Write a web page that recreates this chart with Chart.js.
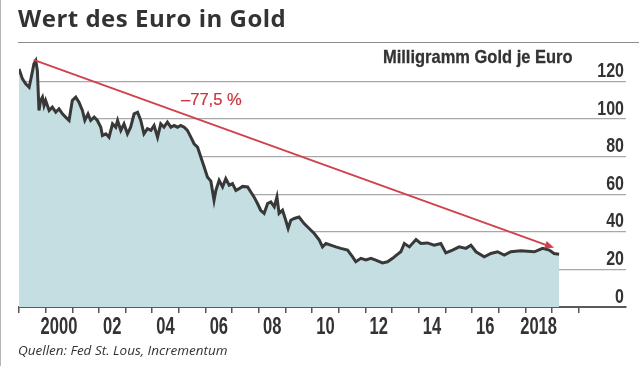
<!DOCTYPE html>
<html>
<head>
<meta charset="utf-8">
<script src="https://cdn.jsdelivr.net/npm/chart.js@4"></script>
<style>
  html, body { margin: 0; padding: 0; background: #fff; }
  #wrap { position: relative; width: 639px; height: 366px; overflow: hidden; border-left: 1px solid #b5b5b5; box-sizing: border-box; }
  #chart { position: absolute; left: 0; top: 0; }
  .txt { position: absolute; white-space: nowrap; color: #333; }
  #title { left: 17px; top: 1px; font: bold 24px 'Open Sans', sans-serif; letter-spacing: 0.5px; }
  #titleLine { position: absolute; left: 17px; right: 0; top: 42px; border-top: 1.5px solid #8c8c8c; }
  #unit { right: 66px; top: 46px; font: bold 19px 'Liberation Sans', Arial, sans-serif; transform-origin: right center; -webkit-text-stroke: 0.3px #333; }
  #pct { left: 180px; top: 91px; font: 16px 'Liberation Sans', Arial, sans-serif; color: #c8343f; transform-origin: left center; -webkit-text-stroke: 0.2px #c8343f; }
  #source { left: 17px; top: 341px; font: italic 13.5px 'Open Sans', sans-serif; }
</style>
</head>
<body>
<div id="wrap">
  <canvas id="chart" width="639" height="366"></canvas>
  <div class="txt" id="title">Wert des Euro in Gold</div>
  <div id="titleLine"></div>
  <div class="txt" id="unit">Milligramm Gold je Euro</div>
  <div class="txt" id="pct">–77,5 %</div>
  <div class="txt" id="source">Quellen: Fed St. Lous, Incrementum</div>
</div>
<script>
// Zeitpunkte (Dezimaljahre) und Milligramm Gold je Euro
const dates = [
  1999.00, 1999.13, 1999.25, 1999.38, 1999.46, 1999.56, 1999.63, 1999.69, 1999.75, 1999.81,
  1999.88, 1999.94, 2000.00, 2000.13, 2000.25, 2000.38, 2000.50, 2000.63, 2000.75, 2000.88,
  2001.00, 2001.13, 2001.25, 2001.38, 2001.47, 2001.59, 2001.69, 2001.82, 2001.94, 2002.07,
  2002.13, 2002.26, 2002.38, 2002.51, 2002.63, 2002.70, 2002.82, 2002.94, 2003.07, 2003.19,
  2003.32, 2003.45, 2003.57, 2003.69, 2003.82, 2003.95, 2004.07, 2004.20, 2004.32, 2004.44,
  2004.57, 2004.70, 2004.82, 2004.95, 2005.07, 2005.20, 2005.32, 2005.45, 2005.57, 2005.70,
  2005.82, 2005.95, 2006.07, 2006.20, 2006.32, 2006.39, 2006.51, 2006.64, 2006.76, 2006.89,
  2007.01, 2007.14, 2007.26, 2007.39, 2007.58, 2007.70, 2007.82, 2007.95, 2008.07, 2008.20,
  2008.33, 2008.45, 2008.58, 2008.68, 2008.76, 2008.89, 2009.01, 2009.10, 2009.20, 2009.33,
  2009.51, 2009.70, 2009.89, 2010.08, 2010.27, 2010.39, 2010.52, 2010.70, 2010.89, 2011.08,
  2011.33, 2011.52, 2011.64, 2011.83, 2012.02, 2012.21, 2012.39, 2012.64, 2012.83, 2013.02,
  2013.20, 2013.33, 2013.46, 2013.65, 2013.90, 2014.08, 2014.33, 2014.58, 2014.83, 2015.02,
  2015.27, 2015.52, 2015.77, 2015.96, 2016.15, 2016.46, 2016.71, 2016.96, 2017.21, 2017.46,
  2017.83, 2018.34, 2018.65, 2018.90, 2019.08, 2019.27
];
const mgGold = [
  126.7, 121.4, 118.8, 117.0, 122.3, 129.4, 131.1, 125.8, 104.6, 109.9,
  111.7, 107.3, 109.9, 104.6, 106.4, 103.7, 105.5, 102.8, 101.1, 99.3,
  109.9, 111.7, 109.0, 104.6, 99.3, 102.8, 99.3, 101.1, 99.3, 95.7,
  91.3, 92.2, 90.4, 97.5, 95.7, 99.3, 94.0, 97.5, 92.2, 95.7,
  102.8, 103.7, 99.3, 92.2, 94.9, 94.0, 96.6, 90.4, 97.5, 95.7,
  98.4, 95.7, 96.6, 95.7, 96.6, 95.7, 94.0, 90.4, 86.9, 85.1,
  80.0, 74.5, 69.2, 67.0, 56.8, 62.1, 67.4, 63.9, 68.3, 64.8,
  65.7, 62.1, 63.0, 64.2, 63.9, 61.2, 58.6, 55.1, 51.5, 49.8,
  55.1, 55.9, 53.3, 58.6, 49.8, 51.5, 46.2, 41.8, 46.2, 47.1,
  47.9, 44.4, 41.8, 39.1, 35.6, 32.0, 33.8, 32.9, 32.0, 31.2,
  30.3, 26.7, 24.1, 25.9, 25.0, 25.9, 25.0, 23.5, 24.1, 25.9,
  28.0, 29.4, 33.8, 32.0, 35.9, 33.8, 34.1, 32.9, 33.8, 28.8,
  30.3, 32.0, 31.2, 32.9, 29.4, 26.7, 28.5, 29.4, 27.6, 29.4,
  29.9, 29.4, 31.2, 30.3, 28.5, 28.1
];

const tickYears = [1999, 2000, 2001, 2002, 2003, 2004, 2005, 2006, 2007, 2008, 2009,
  2010, 2011, 2012, 2013, 2014, 2015, 2016, 2017, 2018, 2019, 2020];
const labelYears = [2000, 2002, 2004, 2006, 2008, 2010, 2012, 2014, 2016, 2018];
const yTicks = [0, 20, 40, 60, 80, 100, 120];

// Trendpfeil: Start (Hoch 1999) und Ende (2019)
const arrowFrom = { x: 1999.55, y: 131.5 };
const arrowTo = { x: 2019.08, y: 31.5 };

const narrow = "'Liberation Sans', Arial, sans-serif";

// squeeze the HTML labels to the condensed width of the original
function fitWidth(id, width) {
    const el = document.getElementById(id);
    el.style.transform = 'scaleX(' + (width / el.offsetWidth) + ')';
}
fitWidth('unit', 190);
fitWidth('pct', 61);

const trendArrow = {
    id: 'trendArrow',
    afterDatasetsDraw(chart) {
        const { ctx, scales } = chart;
        const x1 = scales.x.getPixelForValue(arrowFrom.x);
        const y1 = scales.y.getPixelForValue(arrowFrom.y);
        const x2 = scales.x.getPixelForValue(arrowTo.x);
        const y2 = scales.y.getPixelForValue(arrowTo.y);
        const ang = Math.atan2(y2 - y1, x2 - x1);
        const head = 10;
        ctx.save();
        ctx.strokeStyle = '#d0414b';
        ctx.fillStyle = '#d0414b';
        ctx.lineWidth = 1.8;
        ctx.beginPath();
        ctx.moveTo(x1, y1);
        ctx.lineTo(x2 - Math.cos(ang) * head * 0.8, y2 - Math.sin(ang) * head * 0.8);
        ctx.stroke();
        ctx.beginPath();
        ctx.moveTo(x2, y2);
        ctx.lineTo(x2 - head * Math.cos(ang - 0.4), y2 - head * Math.sin(ang - 0.4));
        ctx.lineTo(x2 - head * Math.cos(ang + 0.4), y2 - head * Math.sin(ang + 0.4));
        ctx.closePath();
        ctx.fill();
        ctx.restore();
    }
};

// tick labels drawn by hand so they can be condensed
function squeezedText(ctx, txt, x, y, sx) {
    ctx.save();
    ctx.translate(x, y);
    ctx.scale(sx, 1);
    ctx.fillText(txt, 0, 0);
    ctx.restore();
}

const axisLabels = {
    id: 'axisLabels',
    afterDraw(chart) {
        const { ctx, scales, chartArea } = chart;
        ctx.save();
        ctx.fillStyle = '#333';
        ctx.textBaseline = 'middle';

        ctx.textAlign = 'center';
        ctx.font = 'bold 23px ' + narrow;
        labelYears.forEach(yr => {
            const txt = (yr === 2000 || yr === 2018) ? String(yr) : String(yr).slice(2);
            squeezedText(ctx, txt, scales.x.getPixelForValue(yr + 0.5), chartArea.bottom + 21, 0.72);
        });

        ctx.textAlign = 'right';
        ctx.font = 'bold 20px ' + narrow;
        yTicks.forEach(v => {
            squeezedText(ctx, String(v), chartArea.right - 2, scales.y.getPixelForValue(v) - 10, 0.8);
        });
        ctx.restore();
    }
};

new Chart(document.getElementById('chart').getContext('2d'), {
    type: 'line',
    data: {
        datasets: [{
            data: dates.map((d, i) => ({ x: d, y: mgGold[i] })),
            borderColor: '#383838',
            borderWidth: 3,
            backgroundColor: '#c5dee2',
            fill: 'origin',
            pointRadius: 0,
            tension: 0
        }]
    },
    options: {
        responsive: false,
        animation: false,
        layout: { padding: { left: 18, top: 44, right: 0, bottom: 0 } },
        plugins: { legend: { display: false }, tooltip: { enabled: false } },
        scales: {
            x: {
                type: 'linear',
                min: 1999,
                max: 2021.78,
                afterBuildTicks: axis => { axis.ticks = tickYears.map(v => ({ value: v })); },
                afterFit: axis => { axis.height = 59; },
                grid: { drawOnChartArea: false, drawTicks: true, tickLength: 6, tickColor: '#555', lineWidth: 1.5 },
                border: { display: true, color: '#5a5a5a', width: 2 },
                ticks: { display: false }
            },
            y: {
                position: 'right',
                min: 0,
                max: 140,
                afterBuildTicks: axis => { axis.ticks = yTicks.map(v => ({ value: v })); },
                afterFit: axis => { axis.width = 14; },
                grid: { color: '#a8a8a8', lineWidth: 1.3, drawTicks: false },
                border: { display: false },
                ticks: { display: false }
            }
        }
    },
    plugins: [trendArrow, axisLabels]
});
</script>
</body>
</html>
